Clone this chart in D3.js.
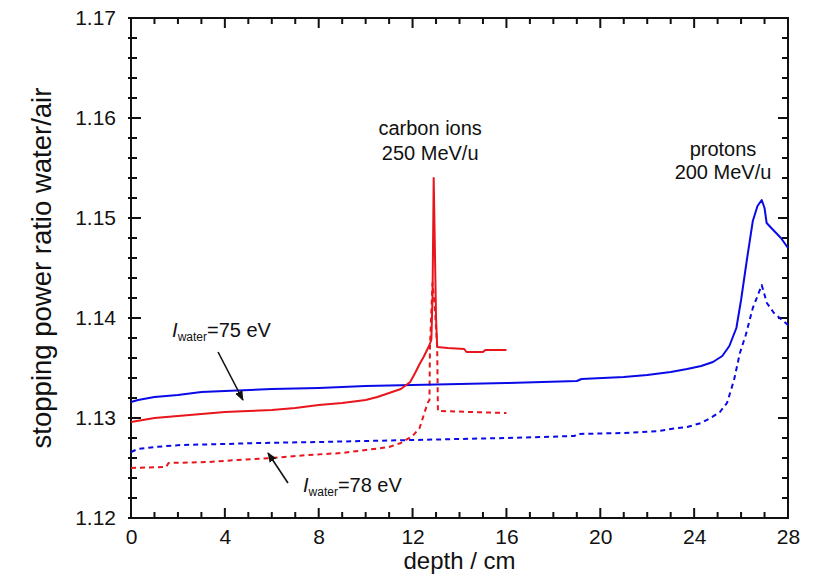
<!DOCTYPE html>
<html>
<head>
<meta charset="utf-8">
<script src="https://cdn.jsdelivr.net/npm/d3@7"></script>
<style>
  body { margin: 0; background: #fff; }
  text { font-family: "Liberation Sans", Arial, Helvetica, sans-serif; fill: #111; }
</style>
</head>
<body>
<div id="chart"></div>
<script>
// ---- data ----
const xTicks = [0, 4, 8, 12, 16, 20, 24, 28]
const yTicks = [1.12, 1.13, 1.14, 1.15, 1.16, 1.17]

// protons 200 MeV/u, I_water = 75 eV (solid blue)
const protonDepth75 = [0, 0.3, 1, 2, 3, 4, 6, 8, 10, 12, 14, 16, 19, 19.2, 21, 22, 23, 23.7, 24.3, 24.8, 25.2, 25.5, 25.8, 26, 26.24, 26.5, 26.7, 26.88, 27.0, 27.09, 27.37, 27.7, 28]
const protonRatio75 = [1.1316, 1.1318, 1.1321, 1.1323, 1.1326, 1.1327, 1.1329, 1.1330, 1.1332, 1.1333, 1.1334, 1.1335, 1.1337, 1.1339, 1.1341, 1.1343, 1.1346, 1.1349, 1.1352, 1.1356, 1.1362, 1.1372, 1.139, 1.1418, 1.1457, 1.1497, 1.1512, 1.1518, 1.151, 1.1495, 1.1488, 1.148, 1.147]

// protons 200 MeV/u, I_water = 78 eV (dashed blue)
const protonDepth78 = [0, 0.3, 1, 2.1, 4, 5.5, 8, 10, 12, 14, 16, 18.9, 19, 21, 22.5, 23, 23.7, 24.3, 24.7, 25.1, 25.4, 25.7, 25.95, 26.2, 26.5, 26.75, 26.88, 27.1, 27.4, 27.75, 28]
const protonRatio78 = [1.1266, 1.1269, 1.1271, 1.1273, 1.1274, 1.1275, 1.1276, 1.1277, 1.1278, 1.1279, 1.1280, 1.1282, 1.1284, 1.1285, 1.1287, 1.1289, 1.1291, 1.1295, 1.1300, 1.1306, 1.1315, 1.1338, 1.1365, 1.1383, 1.1410, 1.1425, 1.1433, 1.1415, 1.1405, 1.1398, 1.1393]

// carbon ions 250 MeV/u, I_water = 75 eV (solid red)
const carbonDepth75 = [0, 1, 2, 3, 4, 5, 6, 7, 8, 9, 10, 10.5, 11, 11.5, 11.9, 12.13, 12.3, 12.47, 12.68, 12.8, 12.85, 12.9, 12.95, 13.0, 13.05, 13.5, 14.2, 14.3, 15, 15.1, 16]
const carbonRatio75 = [1.1296, 1.1300, 1.1302, 1.1304, 1.1306, 1.1307, 1.1308, 1.1310, 1.1313, 1.1315, 1.1318, 1.1321, 1.1325, 1.1329, 1.1336, 1.1346, 1.1354, 1.1361, 1.1371, 1.1378, 1.1420, 1.1540, 1.1470, 1.1400, 1.1371, 1.1370, 1.1369, 1.1366, 1.1366, 1.1368, 1.1368]

// carbon ions 250 MeV/u, I_water = 78 eV (dashed red)
const carbonDepth78 = [0, 1.5, 1.6, 3.3, 4.5, 6, 7.5, 9, 10, 11, 11.5, 12, 12.3, 12.64, 12.72, 12.74, 12.85, 12.95, 13.05, 13.08, 16]
const carbonRatio78 = [1.1250, 1.1251, 1.1255, 1.1256, 1.1258, 1.1260, 1.1263, 1.1265, 1.1268, 1.1271, 1.1275, 1.1282, 1.1290, 1.1315, 1.1318, 1.1370, 1.1435, 1.1410, 1.1370, 1.1307, 1.1305]

const BLUE = "#0a0ae6"
const RED = "#e8161c"

let margin = { top: 18, right: 29, bottom: 58, left: 131 }
let width = 817 - margin.left - margin.right
let height = 576 - margin.top - margin.bottom

let svg = d3.select("#chart").append("svg")
    .attr("width", 817)
    .attr("height", 576)

let g = svg.append("g")
    .attr("transform", "translate(" + margin.left + "," + margin.top + ")")

let x = d3.scaleLinear().domain([0, 28]).range([0, width])
let y = d3.scaleLinear().domain([1.12, 1.17]).range([height, 0])

// arrow head
svg.append("defs").append("marker")
    .attr("id", "arrow")
    .attr("viewBox", "0 0 10 10")
    .attr("refX", 9).attr("refY", 5)
    .attr("markerWidth", 10).attr("markerHeight", 10)
    .attr("markerUnits", "userSpaceOnUse")
    .attr("orient", "auto")
    .append("path")
    .attr("d", "M0,1 L10,5 L0,9 Z")
    .attr("fill", "#111")

// tick values (minor every 1 cm and every 0.002)
let xMinor = d3.range(0, 29, 1)
let yMinor = d3.range(0, 26).map(i => 1.12 + i * 0.002)

// tick labels via d3 axes (no tick lines)
g.append("g").attr("transform", "translate(0," + height + ")")
    .call(d3.axisBottom(x).tickValues(xTicks).tickSize(0).tickPadding(11).tickFormat(d3.format("d")))
    .call(sel => sel.select(".domain").remove())
    .selectAll("text").attr("font-size", "21px").attr("fill", "#111")

g.append("g")
    .call(d3.axisLeft(y).tickValues(yTicks).tickSize(0).tickPadding(15).tickFormat(d3.format(".2f")))
    .call(sel => sel.select(".domain").remove())
    .selectAll("text").attr("font-size", "21px").attr("fill", "#111")

// tick marks drawn as small filled rects, pointing inward
let xLen = d => (d % 4 === 0 ? 10 : 6)
let yLen = i => (i % 5 === 0 ? 10 : 6)
let tickG = g.append("g").attr("fill", "#111")
tickG.selectAll(".xb").data(xMinor).enter().append("rect")
    .attr("class", "xb")
    .attr("x", d => x(d) - 1).attr("y", d => height - xLen(d))
    .attr("width", 2).attr("height", d => xLen(d))
tickG.selectAll(".xt").data(xMinor).enter().append("rect")
    .attr("class", "xt")
    .attr("x", d => x(d) - 1).attr("y", 0)
    .attr("width", 2).attr("height", d => xLen(d))
tickG.selectAll(".yl").data(yMinor).enter().append("rect")
    .attr("class", "yl")
    .attr("x", -3).attr("y", d => y(d) - 1)
    .attr("width", (d, i) => yLen(i) + 3).attr("height", 2)
tickG.selectAll(".yr").data(yMinor).enter().append("rect")
    .attr("class", "yr")
    .attr("x", (d, i) => width - yLen(i)).attr("y", d => y(d) - 1)
    .attr("width", (d, i) => yLen(i)).attr("height", 2)

// frame
g.append("rect")
    .attr("width", width).attr("height", height)
    .attr("fill", "none")
    .attr("stroke", "#111")
    .attr("stroke-width", 2)

// series
let line = d3.line().x(d => x(d[0])).y(d => y(d[1]))
let series = [
    { depth: protonDepth78, ratio: protonRatio78, color: BLUE, dash: "5,4" },
    { depth: carbonDepth78, ratio: carbonRatio78, color: RED, dash: "5,4" },
    { depth: protonDepth75, ratio: protonRatio75, color: BLUE, dash: null },
    { depth: carbonDepth75, ratio: carbonRatio75, color: RED, dash: null }
]
g.selectAll(".series")
    .data(series)
    .enter().append("path")
    .attr("class", "series")
    .attr("d", d => line(d.depth.map((v, i) => [v, d.ratio[i]])))
    .attr("fill", "none")
    .attr("stroke", d => d.color)
    .attr("stroke-width", 2)
    .attr("stroke-linejoin", "round")
    .attr("stroke-dasharray", d => d.dash)

// labels on the curves
let addTwoLines = (cx, y1, y2, l1, l2) => {
    g.append("text").attr("x", x(cx)).attr("y", y(y1))
        .attr("text-anchor", "middle").attr("font-size", "20px").text(l1)
    g.append("text").attr("x", x(cx)).attr("y", y(y2))
        .attr("text-anchor", "middle").attr("font-size", "20px").text(l2)
}
addTwoLines(12.75, 1.1583, 1.1558, "carbon ions", "250 MeV/u")
addTwoLines(25.23, 1.1562, 1.1539, "protons", "200 MeV/u")

let addIwater = (cx, cy, val) => {
    let t = g.append("text").attr("x", x(cx)).attr("y", y(cy)).attr("font-size", "20px")
    t.append("tspan").attr("font-style", "italic").text("I")
    t.append("tspan").attr("font-size", "12px").attr("dy", 4).text("water")
    t.append("tspan").attr("dy", -4).text("=" + val + " eV")
}
addIwater(1.75, 1.1381, 75)
addIwater(7.33, 1.1226, 78)

// arrows
let arrows = [
    { from: [3.71, 1.1366], to: [4.77, 1.1318] },
    { from: [6.69, 1.1235], to: [5.84, 1.1265] }
]
g.selectAll(".arrow")
    .data(arrows)
    .enter().append("line")
    .attr("class", "arrow")
    .attr("x1", d => x(d.from[0])).attr("y1", d => y(d.from[1]))
    .attr("x2", d => x(d.to[0])).attr("y2", d => y(d.to[1]))
    .attr("stroke", "#111")
    .attr("stroke-width", 1.6)
    .attr("marker-end", "url(#arrow)")

// axis titles
svg.append("text")
    .attr("x", margin.left + width / 2)
    .attr("y", 569)
    .attr("text-anchor", "middle")
    .attr("font-size", "24px")
    .text("depth / cm")

svg.append("text")
    .attr("transform", "translate(51," + (margin.top + height / 2) + ") rotate(-90)")
    .attr("text-anchor", "middle")
    .attr("font-size", "27.5px")
    .text("stopping power ratio water/air")
</script>
</body>
</html>
